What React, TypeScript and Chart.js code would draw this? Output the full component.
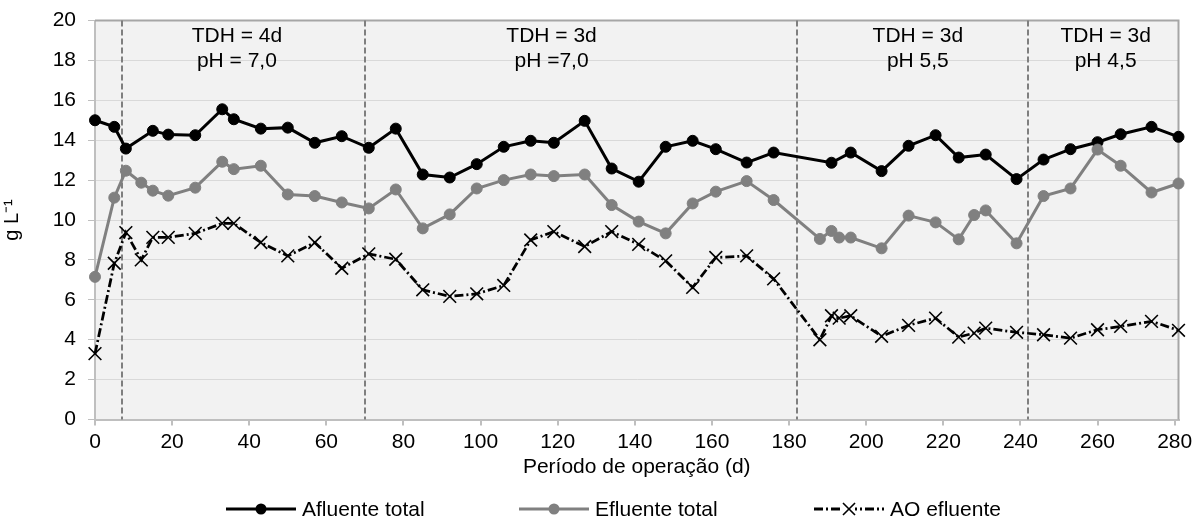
import React, { useEffect, useRef } from "react";
import { Chart, registerables } from "chart.js";

Chart.register(...registerables);

const FONT = '"Liberation Sans", Arial, Helvetica, sans-serif';
const TXT = 21;

// Operation days (d) and concentrations (g L-1)
const diasAfluente = [
  0, 5, 8, 15, 19, 26, 33, 36, 43, 50, 57, 64, 71, 78, 85, 92, 99, 106, 113, 119,
  127, 134, 141, 148, 155, 161, 169, 176, 191, 196, 204, 211, 218, 224, 231, 239,
  246, 253, 260, 266, 274, 281,
];
const afluenteTotal = [
  15.0, 14.67, 13.58, 14.47, 14.28, 14.25, 15.55, 15.05, 14.58, 14.63, 13.87, 14.2,
  13.62, 14.58, 12.28, 12.13, 12.8, 13.67, 13.97, 13.87, 14.97, 12.58, 11.92, 13.67,
  13.97, 13.55, 12.88, 13.38, 12.87, 13.38, 12.45, 13.72, 14.25, 13.13, 13.28, 12.05,
  13.03, 13.55, 13.9, 14.3, 14.67, 14.17,
];

const diasEfluente = [
  0, 5, 8, 12, 15, 19, 26, 33, 36, 43, 50, 57, 64, 71, 78, 85, 92, 99, 106, 113,
  119, 127, 134, 141, 148, 155, 161, 169, 176, 188, 191, 193, 196, 204, 211, 218,
  224, 228, 231, 239, 246, 253, 260, 266, 274, 281,
];
const efluenteTotal = [
  7.15, 11.12, 12.47, 11.87, 11.47, 11.22, 11.62, 12.92, 12.55, 12.72, 11.28, 11.2,
  10.88, 10.58, 11.53, 9.58, 10.28, 11.58, 12.0, 12.28, 12.2, 12.28, 10.75, 9.92,
  9.33, 10.83, 11.42, 11.95, 11.0, 9.05, 9.45, 9.12, 9.12, 8.58, 10.22, 9.88, 9.03,
  10.25, 10.48, 8.83, 11.2, 11.58, 13.53, 12.72, 11.38, 11.83,
];
const aoEfluente = [
  3.3, 7.83, 9.37, 8.0, 9.13, 9.13, 9.33, 9.83, 9.83, 8.87, 8.2, 8.87, 7.58, 8.3,
  8.03, 6.5, 6.17, 6.3, 6.72, 9.0, 9.42, 8.67, 9.42, 8.78, 7.95, 6.62, 8.12, 8.2,
  7.05, 4.0, 5.2, 5.08, 5.2, 4.17, 4.72, 5.08, 4.13, 4.33, 4.58, 4.37, 4.25, 4.08,
  4.5, 4.67, 4.92, 4.47,
];

// Operating phases: boundaries (d) and their labels
const mudancasFase = [7, 70, 182, 242];
const faseCentro = [36.8, 118.4, 213.4, 262.1];
const faseTDH = ["TDH = 4d", "TDH = 3d", "TDH = 3d", "TDH = 3d"];
const fasePH = ["pH = 7,0", "pH =7,0", "pH 5,5", "pH 4,5"];

const nomesSeries = ["Afluente total", "Efluente total", "AO efluente"];

const AO_DASH = [9, 3, 2, 3];

const drawCross = (ctx: CanvasRenderingContext2D, x: number, y: number, r: number) => {
  const o = r * Math.SQRT1_2;
  ctx.beginPath();
  ctx.moveTo(x - o, y - o);
  ctx.lineTo(x + o, y + o);
  ctx.moveTo(x + o, y - o);
  ctx.lineTo(x - o, y + o);
  ctx.stroke();
};

const plotDecor = {
  id: "plotDecor",
  beforeDraw(chart: any) {
    const { ctx, chartArea: a } = chart;
    ctx.save();
    ctx.fillStyle = "#f2f2f2";
    ctx.fillRect(a.left, a.top, a.right - a.left, a.bottom - a.top);
    ctx.restore();
  },
  beforeDatasetsDraw(chart: any) {
    const { ctx, chartArea: a, scales } = chart;
    const xs = scales.x;
    const ys = scales.y;
    ctx.save();
    // top and right frame
    ctx.strokeStyle = "#a6a6a6";
    ctx.lineWidth = 2;
    ctx.beginPath();
    ctx.moveTo(a.left, a.top);
    ctx.lineTo(a.right, a.top);
    ctx.lineTo(a.right, a.bottom);
    ctx.stroke();
    // phase boundaries
    ctx.strokeStyle = "#7f7f7f";
    ctx.lineWidth = 2;
    ctx.setLineDash([6, 3]);
    for (const d of mudancasFase) {
      const px = Math.round(xs.getPixelForValue(d));
      ctx.beginPath();
      ctx.moveTo(px, a.top);
      ctx.lineTo(px, a.bottom);
      ctx.stroke();
    }
    ctx.setLineDash([]);
    // phase labels
    ctx.fillStyle = "#000";
    ctx.font = `${TXT}px ${FONT}`;
    ctx.textAlign = "center";
    ctx.textBaseline = "alphabetic";
    faseCentro.forEach((d, i) => {
      const px = xs.getPixelForValue(d);
      ctx.fillText(faseTDH[i], px, ys.getPixelForValue(18.94));
      ctx.fillText(fasePH[i], px, ys.getPixelForValue(17.68));
    });
    ctx.restore();
  },
  afterDraw(chart: any) {
    const { ctx } = chart;
    const y = 509;
    const starts = [226, 519, 814];
    const len = 70;
    ctx.save();
    ctx.font = `${TXT}px ${FONT}`;
    ctx.textBaseline = "middle";
    ctx.textAlign = "left";
    starts.forEach((x0, i) => {
      const color = i === 1 ? "#808080" : "#000";
      ctx.strokeStyle = color;
      ctx.fillStyle = color;
      ctx.lineWidth = 3;
      ctx.setLineDash(i === 2 ? AO_DASH : []);
      ctx.beginPath();
      ctx.moveTo(x0, y);
      ctx.lineTo(x0 + len, y);
      ctx.stroke();
      ctx.setLineDash([]);
      const cx = x0 + len / 2;
      if (i < 2) {
        ctx.beginPath();
        ctx.arc(cx, y, 5.5, 0, Math.PI * 2);
        ctx.fill();
      } else {
        ctx.fillStyle = "#ffffff";
        ctx.fillRect(cx - 6, y - 6, 12, 12);
        ctx.lineWidth = 1.6;
        drawCross(ctx, cx, y, 8.5);
      }
      ctx.fillStyle = "#000";
      ctx.fillText(nomesSeries[i], x0 + len + 6, y + 1);
    });
    ctx.restore();
  },
};

export default function App() {
  const canvasRef = useRef<HTMLCanvasElement | null>(null);

  useEffect(() => {
    if (!canvasRef.current) return;
    Chart.defaults.font.family = FONT;
    const chart = new Chart(canvasRef.current, {
      type: "line",
      data: {
        datasets: [
          {
            label: nomesSeries[0],
            data: diasAfluente.map((d, i) => ({ x: d, y: afluenteTotal[i] })),
            borderColor: "#000",
            backgroundColor: "#000",
            borderWidth: 3,
            pointRadius: 5.5,
            pointBorderWidth: 1,
            pointBackgroundColor: "#000",
            pointBorderColor: "#000",
            tension: 0,
            clip: false,
            order: 3,
          },
          {
            label: nomesSeries[1],
            data: diasEfluente.map((d, i) => ({ x: d, y: efluenteTotal[i] })),
            borderColor: "#808080",
            backgroundColor: "#808080",
            borderWidth: 3,
            pointRadius: 5.5,
            pointBorderWidth: 1,
            pointBackgroundColor: "#808080",
            pointBorderColor: "#808080",
            tension: 0,
            clip: false,
            order: 2,
          },
          {
            label: nomesSeries[2],
            data: diasEfluente.map((d, i) => ({ x: d, y: aoEfluente[i] })),
            borderColor: "#000",
            backgroundColor: "#000",
            borderWidth: 2.75,
            borderDash: AO_DASH,
            pointStyle: "crossRot",
            pointRadius: 9,
            pointBorderWidth: 1.6,
            pointBorderColor: "#000",
            tension: 0,
            clip: false,
            order: 1,
          },
        ],
      },
      options: {
        animation: false,
        responsive: false,
        maintainAspectRatio: false,
        devicePixelRatio: 1,
        events: [],
        layout: { padding: { left: 0, right: 15.5, top: 20.5, bottom: 0 } },
        plugins: {
          legend: { display: false },
          tooltip: { enabled: false },
        },
        scales: {
          x: {
            type: "linear",
            min: 0,
            max: 281,
            ticks: {
              stepSize: 20,
              includeBounds: false,
              autoSkip: false,
              maxRotation: 0,
              color: "#000",
              padding: 4,
              font: { size: TXT, family: FONT },
            },
            grid: {
              drawOnChartArea: false,
              tickLength: 6,
              tickColor: "#bfbfbf",
              lineWidth: 2,
            },
            border: { color: "#bfbfbf", width: 2 },
            title: {
              display: true,
              text: "Período de operação (d)",
              color: "#000",
              font: { size: TXT, family: FONT },
              padding: { top: 0, bottom: 41 },
            },
            afterFit(s: any) {
              s.height = 101.5;
              s.paddingLeft = 0;
              s.paddingRight = 0;
            },
          },
          y: {
            type: "linear",
            min: 0,
            max: 20,
            ticks: {
              stepSize: 2,
              color: "#000",
              padding: 12,
              font: { size: TXT, family: FONT },
            },
            grid: {
              color: "#d9d9d9",
              lineWidth: 1,
              tickLength: 7,
              tickColor: "#bfbfbf",
            },
            border: { color: "#bfbfbf", width: 2 },
            title: {
              display: true,
              text: "g L⁻¹",
              color: "#000",
              font: { size: 20, family: FONT },
              padding: 0,
            },
            afterFit(s: any) {
              s.width = 95;
              s.paddingTop = 0;
              s.paddingBottom = 0;
            },
          },
        },
      },
      plugins: [plotDecor],
    });
    return () => chart.destroy();
  }, []);

  return (
    <div style={{ position: "absolute", left: 0, top: 0, width: 1194, height: 521, background: "#fff" }}>
      <canvas ref={canvasRef} width={1194} height={521} style={{ display: "block" }} />
    </div>
  );
}
